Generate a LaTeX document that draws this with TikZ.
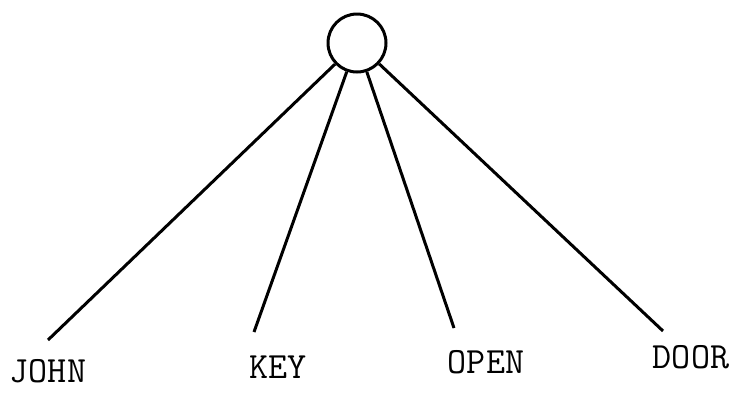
\documentclass[tikz,border=0pt]{standalone}
\usetikzlibrary{positioning}

\begin{document}
\begin{tikzpicture}[x=1pt, y=-1pt, line width=3pt,
    every node/.style={font=\ttfamily\fontsize{37}{40}\selectfont}]

    \useasboundingbox (0,0) rectangle (742,402);

    % Circle for the event
    \node[circle, draw, minimum size=58pt, inner sep=0pt] (event) at (357,43) {};

    % Ends of the branches
    \coordinate (johnend) at (48,340);
    \coordinate (keyend) at (254,332);
    \coordinate (openend) at (454,328);
    \coordinate (doorend) at (663,331);

    % Labels
    \node (john) at (48,371) {JOHN};
    \node (key) at (278,367) {KEY};
    \node (open) at (486,362) {OPEN};
    \node (door) at (691,357) {DOOR};

    % Branches
    \draw (event) -- (johnend);
    \draw (event) -- (keyend);
    \draw (event) -- (openend);
    \draw (event) -- (doorend);

\end{tikzpicture}
\end{document}
